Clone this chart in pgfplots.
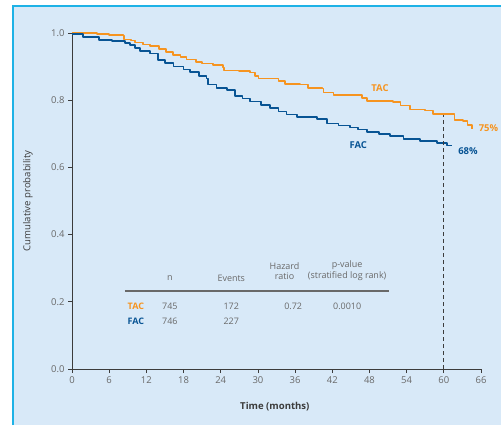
\documentclass[border=0pt]{standalone}
\usepackage{pgfplots}
\pgfplotsset{compat=1.18}
\usepackage{fontspec}
\setmainfont{Open Sans}
\definecolor{tacor}{RGB}{246,148,32}
\definecolor{facbl}{RGB}{8,84,148}
\definecolor{bgblue}{RGB}{216,233,248}
\definecolor{framecy}{RGB}{30,178,230}
\definecolor{txtgray}{RGB}{105,105,105}
\definecolor{axgray}{RGB}{60,60,60}
\begin{document}
\begin{tikzpicture}[x=1bp,y=1bp]
\path[use as bounding box] (-72,-56) rectangle (429,369);
\fill[white] (-72,-56) rectangle (429,369);
\fill[bgblue] (-59,-56) rectangle (429,363);
\draw[framecy,line width=2.2bp] (-59,-56) -- (-59,363) -- (429,363);
\begin{axis}[
  at={(0,0)}, anchor=south west,
  scale only axis, width=409bp, height=336bp,
  xmin=0, xmax=66, ymin=0, ymax=1,
  axis lines=left, axis line style={-, axgray, line width=0.8pt},
  xtick={0,6,...,66}, ytick={0,0.2,0.4,0.6,0.8,1.0},
  tick align=outside, major tick length=4bp,
  tick style={axgray, line width=0.8pt},
  clip=false,
  /pgf/number format/assume math mode=true,
  yticklabel style={/pgf/number format/.cd,fixed,fixed zerofill,precision=1},
  ticklabel style={font=\fontsize{9.5}{11}\selectfont, text=txtgray},
  every axis y label/.style={at={(axis description cs:-0.108,0.5)},rotate=90,anchor=center},
  every axis x label/.style={at={(axis description cs:0.496,-0.113)},anchor=center},
  ylabel={\fontsize{9.6}{11}\selectfont Cumulative probability},
  xlabel={\fontsize{9.6}{11}\selectfont\bfseries Time (months)},
  label style={text=axgray},
]
\addplot[const plot, tacor, line width=1.7pt, line join=round] coordinates {
(0,1.0)(2,0.999)(4,0.997)(6,0.995)(8.3,0.993)(8.4,0.981)(9.5,0.978)(10.2,0.972)
(11.5,0.966)(12.6,0.961)(14,0.952)(15.2,0.944)(16.3,0.935)(17.5,0.928)(18.5,0.921)
(20,0.914)(21,0.909)(22.8,0.905)(24.4,0.897)(24.5,0.888)(27,0.886)(28.7,0.882)
(29.5,0.872)(30.1,0.865)(32,0.865)(33.3,0.857)(34.4,0.848)(36.8,0.847)(38.1,0.836)
(40.4,0.835)(40.6,0.823)(42.2,0.815)(45.9,0.815)(46.8,0.806)(47.6,0.797)(51.8,0.794)
(53,0.784)(54.5,0.772)(57,0.769)(58.3,0.758)(61.4,0.758)(61.7,0.742)(63.1,0.739)
(63.8,0.726)(64.5,0.713)};
\addplot[const plot, facbl, line width=1.7pt, line join=round] coordinates {
(0,0.996)(1.8,0.989)(4.4,0.979)(6.5,0.977)(7.7,0.976)(8.5,0.970)(9.4,0.964)
(10.2,0.955)(11,0.946)(12.6,0.939)(13.9,0.920)(15,0.910)(16.4,0.900)(18,0.891)
(19,0.883)(20.5,0.872)(21.7,0.865)(22.0,0.847)(23.3,0.836)(25,0.830)(26.3,0.813)
(27.5,0.805)(28.7,0.796)(30.5,0.786)(32,0.776)(33.3,0.766)(34.6,0.757)(36.3,0.751)
(38.4,0.751)(39.5,0.745)(41.1,0.731)(43,0.725)(44.9,0.719)(46.2,0.713)(47.6,0.706)
(49.5,0.700)(51.3,0.693)(53.5,0.684)(56.2,0.679)(58.9,0.672)(60.5,0.665)(61.3,0.665)};
\addplot[axgray, line width=0.8pt, dash pattern=on 4bp off 3bp] coordinates {(60,0)(60,0.757)};
% labels
\node[text=tacor, font=\fontsize{9.5}{11}\selectfont\bfseries] at (axis cs:49.7,0.836) {TAC};
\node[text=tacor, font=\fontsize{9.5}{11}\selectfont\bfseries] at (axis cs:67.2,0.717) {75\%};
\node[text=facbl, font=\fontsize{9.5}{11}\selectfont\bfseries] at (axis cs:46.2,0.667) {FAC};
\node[text=facbl, font=\fontsize{9.5}{11}\selectfont\bfseries] at (axis cs:63.9,0.649) {68\%};
% table
\begin{scope}[every node/.style={text=txtgray, font=\fontsize{9}{10.5}\selectfont, align=center}]
\node at (axis cs:15.8,0.271) {n};
\node at (axis cs:25.7,0.271) {Events};
\node at (axis cs:34.3,0.292) {Hazard\\ratio};
\node at (axis cs:44.4,0.292) {p-value\\(stratified log rank)};
\node at (axis cs:15.8,0.1875) {745};
\node at (axis cs:25.7,0.1875) {172};
\node at (axis cs:35.7,0.1875) {0.72};
\node at (axis cs:44.4,0.1875) {0.0010};
\node at (axis cs:15.8,0.143) {746};
\node at (axis cs:25.7,0.143) {227};
\node[text=tacor, font=\fontsize{9}{10.5}\selectfont\bfseries] at (axis cs:10.3,0.1875) {TAC};
\node[text=facbl, font=\fontsize{9}{10.5}\selectfont\bfseries] at (axis cs:10.3,0.143) {FAC};
\end{scope}
\addplot[txtgray, line width=1.3pt] coordinates {(8.55,0.232)(51.2,0.232)};
\end{axis}
\end{tikzpicture}
\end{document}
